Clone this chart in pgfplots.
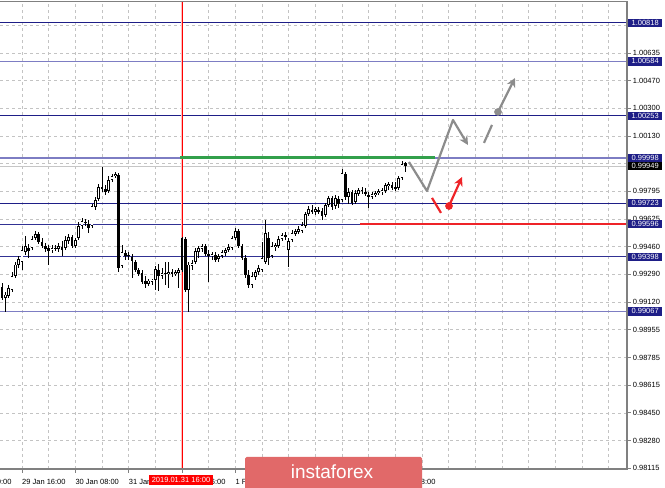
\documentclass[border=0pt]{standalone}
\usepackage{fontspec}
\setmainfont{Liberation Sans}
\usepackage{pgfplots}
\pgfplotsset{compat=1.18}
\usepackage{pgfplotstable}
\usetikzlibrary{arrows.meta}
\definecolor{navyc}{RGB}{30,30,135}
\definecolor{lavc}{RGB}{125,125,195}
\definecolor{gridc}{RGB}{195,195,195}
\definecolor{axc}{RGB}{128,128,128}
\definecolor{greenc}{RGB}{50,160,75}
\definecolor{redc}{RGB}{238,35,40}
\definecolor{arrowgray}{RGB}{140,140,140}
\definecolor{wmred}{RGB}{225,105,105}
\newcommand{\tf}{\fontsize{7.5}{8}\selectfont}

\pgfplotstableread{
x o h l c
1 0.99148 0.99185 0.99064 0.99167
2 0.99161 0.99227 0.99148 0.99209
3 0.99197 0.99306 0.99185 0.99282
4 0.99282 0.99367 0.99270 0.99349
5 0.99349 0.99403 0.99330 0.99385
6 0.99367 0.99464 0.99318 0.99439
7 0.99427 0.99524 0.99409 0.99464
9 0.99452 0.99524 0.99439 0.99506
10 0.99512 0.99555 0.99500 0.99536
15 0.99439 0.99470 0.99421 0.99452
17 0.99446 0.99482 0.99427 0.99464
19 0.99452 0.99524 0.99439 0.99500
20 0.99494 0.99536 0.99476 0.99518
22 0.99464 0.99512 0.99452 0.99500
23 0.99512 0.99609 0.99500 0.99585
24 0.99585 0.99633 0.99567 0.99615
27 0.99585 0.99718 0.99573 0.99706
28 0.99700 0.99761 0.99682 0.99743
29 0.99749 0.99840 0.99737 0.99822
32 0.99797 0.99888 0.99785 0.99864
33 0.99864 0.99900 0.99852 0.99888
34 0.99888 0.99913 0.99876 0.99900
36 0.99342 0.99470 0.99330 0.99427
38 0.99403 0.99427 0.99379 0.99409
44 0.99233 0.99264 0.99221 0.99252
45 0.99245 0.99264 0.99227 0.99258
46 0.99258 0.99342 0.99197 0.99324
48 0.99282 0.99330 0.99264 0.99300
50 0.99294 0.99367 0.99209 0.99306
52 0.99294 0.99318 0.99282 0.99306
53 0.99300 0.99330 0.99209 0.99318
56 0.99197 0.99367 0.99064 0.99349
57 0.99342 0.99379 0.99318 0.99361
58 0.99367 0.99452 0.99355 0.99433
59 0.99427 0.99464 0.99391 0.99452
60 0.99446 0.99476 0.99427 0.99464
63 0.99403 0.99427 0.99379 0.99415
65 0.99385 0.99415 0.99367 0.99403
66 0.99403 0.99439 0.99391 0.99427
67 0.99421 0.99452 0.99403 0.99439
68 0.99439 0.99476 0.99427 0.99458
69 0.99452 0.99524 0.99439 0.99512
70 0.99512 0.99573 0.99500 0.99555
75 0.99227 0.99306 0.99209 0.99282
76 0.99276 0.99318 0.99258 0.99306
77 0.99306 0.99349 0.99288 0.99330
78 0.99318 0.99488 0.99306 0.99391
79 0.99367 0.99621 0.99355 0.99543
81 0.99403 0.99488 0.99391 0.99464
82 0.99458 0.99482 0.99433 0.99470
83 0.99464 0.99524 0.99452 0.99506
84 0.99506 0.99543 0.99494 0.99530
86 0.99439 0.99512 0.99336 0.99494
87 0.99500 0.99561 0.99488 0.99543
88 0.99536 0.99567 0.99524 0.99555
89 0.99549 0.99585 0.99536 0.99567
90 0.99555 0.99609 0.99543 0.99591
91 0.99585 0.99670 0.99573 0.99658
92 0.99658 0.99706 0.99646 0.99688
94 0.99670 0.99700 0.99652 0.99688
97 0.99652 0.99724 0.99640 0.99712
98 0.99712 0.99767 0.99700 0.99755
100 0.99706 0.99773 0.99688 0.99755
102 0.99743 0.99931 0.99730 0.99907
104 0.99761 0.99815 0.99718 0.99791
106 0.99730 0.99803 0.99718 0.99785
107 0.99779 0.99815 0.99767 0.99803
111 0.99761 0.99791 0.99749 0.99779
112 0.99773 0.99797 0.99761 0.99785
113 0.99785 0.99809 0.99773 0.99797
114 0.99791 0.99815 0.99773 0.99803
115 0.99797 0.99846 0.99785 0.99834
116 0.99828 0.99852 0.99803 0.99840
119 0.99815 0.99888 0.99803 0.99876
120 0.99876 0.99979 0.99864 0.99961
}\bull

\pgfplotstableread{
x o h l c
0 0.99215 0.99239 0.99136 0.99148
8 0.99452 0.99476 0.99391 0.99433
11 0.99536 0.99549 0.99476 0.99488
12 0.99488 0.99512 0.99452 0.99464
13 0.99464 0.99482 0.99427 0.99446
14 0.99452 0.99470 0.99349 0.99433
16 0.99452 0.99470 0.99433 0.99446
18 0.99458 0.99494 0.99403 0.99439
21 0.99518 0.99530 0.99452 0.99464
25 0.99609 0.99627 0.99585 0.99603
26 0.99597 0.99621 0.99543 0.99573
30 0.99822 0.99943 0.99791 0.99809
31 0.99809 0.99834 0.99773 0.99791
35 0.99894 0.99907 0.99306 0.99330
37 0.99421 0.99439 0.99379 0.99403
39 0.99397 0.99415 0.99270 0.99373
40 0.99367 0.99379 0.99306 0.99318
41 0.99318 0.99330 0.99282 0.99294
42 0.99300 0.99318 0.99233 0.99245
43 0.99252 0.99282 0.99209 0.99233
47 0.99318 0.99355 0.99191 0.99282
49 0.99300 0.99367 0.99227 0.99294
51 0.99306 0.99324 0.99276 0.99294
54 0.99512 0.99518 0.99306 0.99318
55 0.99506 0.99518 0.99185 0.99197
61 0.99464 0.99476 0.99403 0.99415
62 0.99415 0.99439 0.99245 0.99403
64 0.99409 0.99427 0.99367 0.99379
71 0.99555 0.99567 0.99452 0.99464
72 0.99464 0.99476 0.99379 0.99391
73 0.99391 0.99409 0.99270 0.99288
74 0.99288 0.99318 0.99209 0.99227
80 0.99512 0.99549 0.99349 0.99391
85 0.99530 0.99549 0.99500 0.99518
93 0.99682 0.99712 0.99658 0.99670
95 0.99682 0.99700 0.99658 0.99670
96 0.99676 0.99694 0.99621 0.99646
99 0.99755 0.99767 0.99682 0.99700
101 0.99749 0.99767 0.99694 0.99718
103 0.99900 0.99913 0.99743 0.99761
105 0.99791 0.99803 0.99712 0.99724
108 0.99803 0.99822 0.99779 0.99797
109 0.99791 0.99815 0.99767 0.99779
110 0.99773 0.99791 0.99694 0.99761
117 0.99834 0.99852 0.99803 0.99815
118 0.99822 0.99852 0.99797 0.99809
121 0.99967 0.99973 0.99913 0.99949
}\bear

\begin{document}
\begin{tikzpicture}
\useasboundingbox (0,0) rectangle (665pt,488pt);
\begin{axis}[
  at={(0pt,19pt)}, anchor=south west,
  scale only axis, width=627pt, height=467pt,
  xmin=-0.6, xmax=187.5, ymin=0.98110, ymax=1.00944,
  axis line style={draw=none},
  clip mode=individual,
  xtick={6,22,38,54,70,86,102,118},
  xticklabel={\mbox{}},
  minor xtick={14,30,46,62,78,94,110,126,134,142,150,158,166,174,182},
  ytick={0.98115,0.98283,0.98451,0.98619,0.98787,0.98955,0.99123,0.99291,0.99459,0.99627,0.99795,0.99963,1.00131,1.00299,1.00467,1.00635,1.00803},
  yticklabels={0.98115,0.98280,0.98450,0.98615,0.98785,0.98955,0.99120,0.99290,0.99460,0.99625,0.99795,0.99965,1.00130,1.00300,1.00470,1.00635,1.00805},
  xtick pos=bottom, ytick pos=right, yticklabel pos=right,
  tick align=outside, major tick length=3.5pt, minor tick length=0pt,
  tick style={axc, line width=0.7pt},
  grid=both,
  grid style={gridc, dash pattern=on 3pt off 3pt, line width=0.6pt},
  minor grid style={gridc, dash pattern=on 3pt off 3pt, line width=0.6pt},
  major grid style={gridc, dash pattern=on 3pt off 3pt, line width=0.6pt},
  yticklabel style={font=\tf, anchor=west, inner xsep=0pt, xshift=2.2pt},
]
% level lines
\addplot[navyc, line width=0.8pt] coordinates {(-0.6,1.00818) (187.5,1.00818)};
\addplot[lavc, line width=1.3pt] coordinates {(-0.6,1.00584) (187.5,1.00584)};
\addplot[navyc, line width=0.8pt] coordinates {(-0.6,1.00253) (187.5,1.00253)};
\addplot[lavc, line width=1.3pt] coordinates {(-0.6,0.99998) (187.5,0.99998)};
\addplot[gray!45, line width=0.7pt] coordinates {(-0.6,0.99949) (187.5,0.99949)};
\addplot[navyc, line width=0.8pt] coordinates {(-0.6,0.99723) (187.5,0.99723)};
\addplot[navyc!80!lavc, line width=1.0pt] coordinates {(-0.6,0.99596) (187.5,0.99596)};
\addplot[navyc!80!lavc, line width=1.0pt] coordinates {(-0.6,0.99398) (187.5,0.99398)};
\addplot[lavc, line width=1.3pt] coordinates {(-0.6,0.99067) (187.5,0.99067)};
% red vertical line
\addplot[red!25, line width=2.6pt] coordinates {(54,0.98110) (54,1.00944)};
\addplot[red, line width=0.8pt] coordinates {(54,0.98110) (54,1.00944)};
% wicks
\addplot[draw=none, mark=none, error bars/.cd, y dir=plus, y explicit, error mark=none,
  error bar style={draw=black, solid, line width=0.75pt}]
  table[x=x, y=l, y error plus expr=\thisrow{h}-\thisrow{l}] {\bull};
\addplot[draw=none, mark=none, error bars/.cd, y dir=plus, y explicit, error mark=none,
  error bar style={draw=black, solid, line width=0.75pt}]
  table[x=x, y=l, y error plus expr=\thisrow{h}-\thisrow{l}] {\bear};
% bear bodies
\addplot[draw=none, mark=none, error bars/.cd, y dir=plus, y explicit, error mark=none,
  error bar style={draw=black, solid, line width=2.6pt}]
  table[x=x, y=c, y error plus expr=\thisrow{o}-\thisrow{c}] {\bear};
% bull bodies
\addplot[draw=none, mark=none, error bars/.cd, y dir=plus, y explicit, error mark=none,
  error bar style={draw=black, solid, line width=2.7pt}]
  table[x=x, y=o, y error plus expr=\thisrow{c}-\thisrow{o}] {\bull};
\addplot[draw=none, mark=none, error bars/.cd, y dir=plus, y explicit, error mark=none,
  error bar style={draw=white, solid, line width=1.1pt}]
  table[x=x, y expr=\thisrow{o}+0.00004, y error plus expr={max(\thisrow{c}-\thisrow{o}-0.00008,0)}] {\bull};
% green and red levels
\addplot[greenc, line width=2.8pt] coordinates {(53.4,0.99998) (129.9,0.99998)};
\addplot[redc, line width=2.3pt] coordinates {(107.4,0.99596) (187.5,0.99596)};
% forecast arrows
\addplot[arrowgray, line width=2.2pt, line join=round, -{Stealth[length=9pt,width=9pt]}]
  coordinates {(122.1,0.99973) (127.5,0.99797) (135.3,1.00228) (139.8,1.00076)};
\addplot[arrowgray, line width=2.2pt] coordinates {(144.6,1.00089) (147.0,1.00198)};
\addplot[arrowgray, line width=2.2pt, -{Stealth[length=9pt,width=9pt]}]
  coordinates {(148.8,1.00277) (153.9,1.00483)};
\addplot[only marks, mark=*, mark size=3.6pt, arrowgray] coordinates {(148.8,1.00277)};
\addplot[redc, line width=2.2pt] coordinates {(129.0,0.99755) (131.7,0.99664)};
\addplot[redc, line width=2.2pt, -{Stealth[length=9pt,width=9pt]}]
  coordinates {(134.1,0.99706) (138.0,0.99882)};
\addplot[only marks, mark=*, mark size=3.6pt, redc] coordinates {(134.1,0.99706)};
% x labels
\node[font=\tf, anchor=base west, inner sep=0pt] at (axis cs:-10.2,0.98110) [yshift=-15.5pt] {29 Jan 00:00};
\node[font=\tf, anchor=base west, inner sep=0pt] at (axis cs:6,0.98110) [yshift=-15.5pt] {29 Jan 16:00};
\node[font=\tf, anchor=base west, inner sep=0pt] at (axis cs:22,0.98110) [yshift=-15.5pt] {30 Jan 08:00};
\node[font=\tf, anchor=base west, inner sep=0pt] at (axis cs:38,0.98110) [yshift=-15.5pt] {31 Jan 00:00};
\node[font=\tf, anchor=base west, inner sep=0pt] at (axis cs:54,0.98110) [yshift=-15.5pt] {31 Jan 16:00};
\node[font=\tf, anchor=base west, inner sep=0pt] at (axis cs:70,0.98110) [yshift=-15.5pt] {1 Feb 08:00};
\node[font=\tf, anchor=base west, inner sep=0pt] at (axis cs:86,0.98110) [yshift=-15.5pt] {4 Feb 00:00};
\node[font=\tf, anchor=base west, inner sep=0pt] at (axis cs:102,0.98110) [yshift=-15.5pt] {4 Feb 16:00};
\node[font=\tf, anchor=base west, inner sep=0pt] at (axis cs:118,0.98110) [yshift=-15.5pt] {5 Feb 08:00};
\node[font=\tf, fill=red, text=white, inner xsep=2.5pt, inner ysep=0pt, minimum height=10.5pt] at (axis cs:54,0.98110) [yshift=-11pt, xshift=-1pt] {2019.01.31 16:00};
% label anchors
\coordinate (L1) at (axis cs:187.5,1.00818);
\coordinate (L2) at (axis cs:187.5,1.00584);
\coordinate (L3) at (axis cs:187.5,1.00253);
\coordinate (L4) at (axis cs:187.5,0.99998);
\coordinate (L5) at (axis cs:187.5,0.99949);
\coordinate (L6) at (axis cs:187.5,0.99723);
\coordinate (L7) at (axis cs:187.5,0.99596);
\coordinate (L8) at (axis cs:187.5,0.99398);
\coordinate (L9) at (axis cs:187.5,0.99067);
\end{axis}
% frame
\draw[axc, line width=1.4pt] (0,486.3pt) -- (627pt,486.3pt) -- (627pt,19pt) -- (0,19pt);
% price boxes
\tikzset{pbox/.style={font=\tf, text=white, fill=navyc, anchor=west, inner xsep=1.5pt, inner ysep=0pt, minimum height=8.5pt, minimum width=34pt}}
\node[pbox] at ([xshift=1pt]L1) {1.00818};
\node[pbox] at ([xshift=1pt]L2) {1.00584};
\node[pbox] at ([xshift=1pt]L3) {1.00253};
\node[pbox] at ([xshift=1pt]L4) {0.99998};
\node[pbox, fill=black] at ([xshift=1pt]L5) {0.99949};
\node[pbox] at ([xshift=1pt]L6) {0.99723};
\node[pbox] at ([xshift=1pt]L7) {0.99596};
\node[pbox] at ([xshift=1pt]L8) {0.99398};
\node[pbox] at ([xshift=1pt]L9) {0.99067};
% watermark
\fill[wmred, rounded corners=1.5pt] (245pt,-2pt) rectangle (422pt,31pt);
\node[text=white, font=\fontsize{19}{20}\selectfont] at (332pt,16.5pt) {instaforex};
\end{tikzpicture}
\end{document}
